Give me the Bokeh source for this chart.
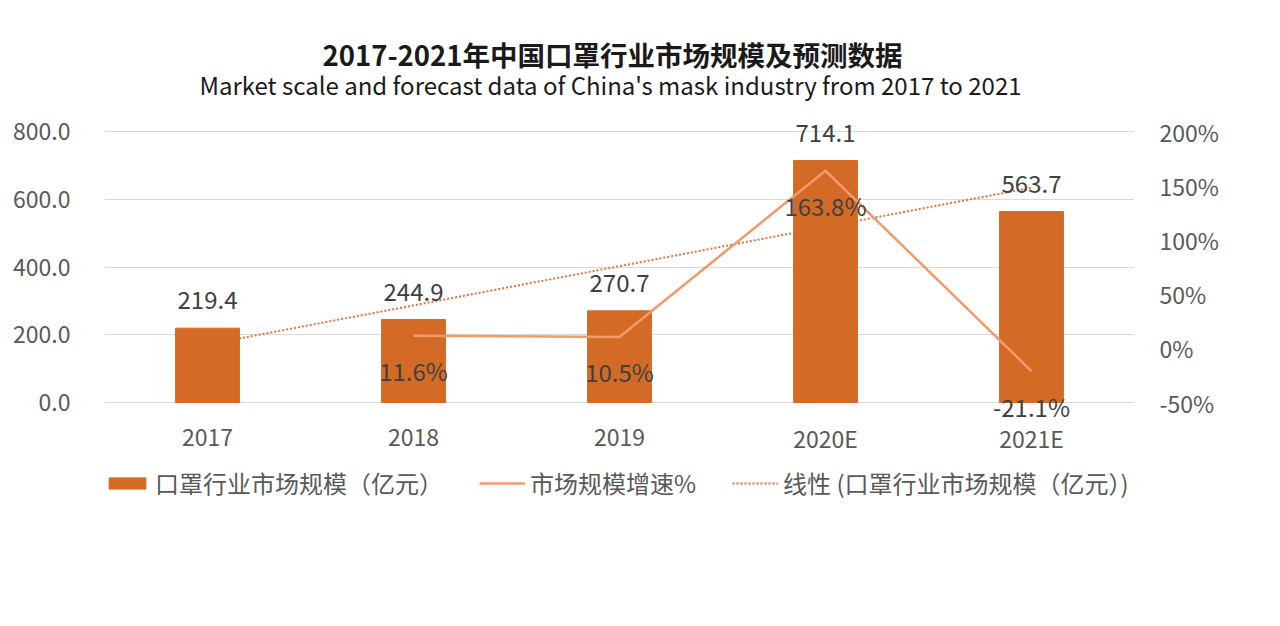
import numpy as np
from bokeh.plotting import figure
from bokeh.models import (Range1d, LinearAxis, FixedTicker, PrintfTickFormatter,
                          ColumnDataSource, LabelSet, Label, Legend, LegendItem, FactorRange)
from bokeh.core.properties import value
from bokeh.embed import file_html
from bokeh.resources import INLINE

categories = ["2017", "2018", "2019", "2020E", "2021E"]
market_size = [219.4, 244.9, 270.7, 714.1, 563.7]
growth_cats = ["2018", "2019", "2020E", "2021E"]
growth_pct = [11.6, 10.5, 163.8, -21.1]
left_ticks = [0, 200, 400, 600, 800]
right_ticks = [-50, 0, 50, 100, 150, 200]

title_cn = "2017-2021年中国口罩行业市场规模及预测数据"
title_en = "Market scale and forecast data of China's mask industry from 2017 to 2021"
legend_bar = "口罩行业市场规模（亿元）"
legend_line = "市场规模增速%"
legend_trend = "线性 (口罩行业市场规模（亿元）)"

FONT = "Noto Sans CJK SC"
BAR_C = "#D36B27"
LINE_C = "#F29A6B"
TREND_C = "#E2703F"
TXT = "#404040"
TICK = "#595959"

# layout (page pixels)
W, H = 1270, 620
F_LEFT, F_RIGHT = 104, 1134
F_TOP, F_BOT = 20, 530
Y0_PX, Y800_PX = 402, 131
L_MIN, L_MAX = 0, 800
R_MIN, R_MAX = -50, 200
s = (Y0_PX - Y800_PX) / (L_MAX - L_MIN)
y_lo = L_MIN - (F_BOT - Y0_PX) / s
y_hi = L_MAX + (Y800_PX - F_TOP) / s
k_r = (R_MAX - R_MIN) / (L_MAX - L_MIN)

p = figure(width=W, height=H, x_range=FactorRange(*categories), y_range=Range1d(y_lo, y_hi),
           output_backend="svg", toolbar_location=None,
           min_border_left=F_LEFT, min_border_right=W - F_RIGHT,
           min_border_top=F_TOP, min_border_bottom=H - F_BOT)
p.outline_line_color = None
p.background_fill_color = "white"
p.border_fill_color = "white"
p.extra_y_ranges = {"pct": Range1d(R_MIN + (y_lo - L_MIN) * k_r, R_MIN + (y_hi - L_MIN) * k_r)}

# trend line (linear fit of bar values)
idx = np.arange(len(market_size))
k, b = np.polyfit(idx, np.array(market_size), 1)
trend = list(k * idx + b)
r_trend = p.line(categories, trend, line_color=TREND_C, line_width=2, line_dash="2 2")

r_bar = p.vbar(x=categories, top=market_size, width=0.31, color=BAR_C)
r_line = p.line(growth_cats, growth_pct, y_range_name="pct", line_color=LINE_C, line_width=2.5)

# axes
p.xaxis.visible = False
p.yaxis.ticker = FixedTicker(ticks=left_ticks)
p.yaxis.formatter = PrintfTickFormatter(format="%.1f")
ax = p.yaxis[0]
ax.axis_line_color = None
ax.major_tick_line_color = None
ax.minor_tick_line_color = None
ax.major_label_text_font = FONT
ax.major_label_text_font_size = "23px"
ax.major_label_text_color = TICK
ax.major_label_standoff = 28

ra = LinearAxis(y_range_name="pct", ticker=FixedTicker(ticks=right_ticks),
                formatter=PrintfTickFormatter(format="%d%%"))
ra.axis_line_color = None
ra.major_tick_line_color = None
ra.minor_tick_line_color = None
ra.major_label_text_font = FONT
ra.major_label_text_font_size = "23px"
ra.major_label_text_color = TICK
ra.major_label_standoff = 19
p.add_layout(ra, "right")

p.xgrid.grid_line_color = None
p.ygrid.ticker = FixedTicker(ticks=left_ticks)
p.ygrid.grid_line_color = "#D9D9D9"
p.ygrid.grid_line_width = 1

# category labels (drawn as text inside the frame)
src_cat = ColumnDataSource(dict(x=categories, y=[L_MIN] * len(categories), t=categories))
p.add_layout(LabelSet(x="x", y="y", text="t", source=src_cat, text_align="center",
                      text_baseline="middle", y_offset=-35, text_font=value(FONT),
                      text_font_size=value("23px"), text_color=TICK))

# data labels
src_bar = ColumnDataSource(dict(x=categories, y=market_size, t=[f"{v:.1f}" for v in market_size]))
p.add_layout(LabelSet(x="x", y="y", text="t", source=src_bar, text_align="center",
                      text_baseline="middle", y_offset=28, text_font=value(FONT),
                      text_font_size=value("24px"), text_color=TXT))
src_g = ColumnDataSource(dict(x=growth_cats, y=growth_pct, t=[f"{v:.1f}%" for v in growth_pct]))
p.add_layout(LabelSet(x="x", y="y", text="t", source=src_g, y_range_name="pct", text_align="center",
                      text_baseline="middle", y_offset=-35, text_font=value(FONT),
                      text_font_size=value("24px"), text_color=TXT))

# titles (screen units relative to frame bottom-left)
p.add_layout(Label(x=612 - F_LEFT, y=F_BOT - 53, x_units="screen", y_units="screen", text=title_cn,
                   text_font=FONT, text_font_size="27.5px", text_font_style="bold",
                   text_color="#1a1a1a", text_align="center", text_baseline="middle"))
p.add_layout(Label(x=610 - F_LEFT, y=F_BOT - 84, x_units="screen", y_units="screen", text=title_en,
                   text_font=FONT, text_font_size="24px",
                   text_color="#1a1a1a", text_align="center", text_baseline="middle"))

# legends
def mk_legend(label, rend, px):
    lg = Legend(items=[LegendItem(label=label, renderers=[rend])], location=(px - F_LEFT, F_BOT - 500),
                glyph_width=46, glyph_height=14, label_standoff=5, padding=0, margin=0,
                border_line_color=None, background_fill_alpha=0,
                label_text_font=FONT, label_text_font_size="24px", label_text_color=TICK)
    p.add_layout(lg)

mk_legend(legend_bar, r_bar, 104)
mk_legend(legend_line, r_line, 479)
mk_legend(legend_trend, r_trend, 732)

open("out.html", "w").write(file_html(p, INLINE))
